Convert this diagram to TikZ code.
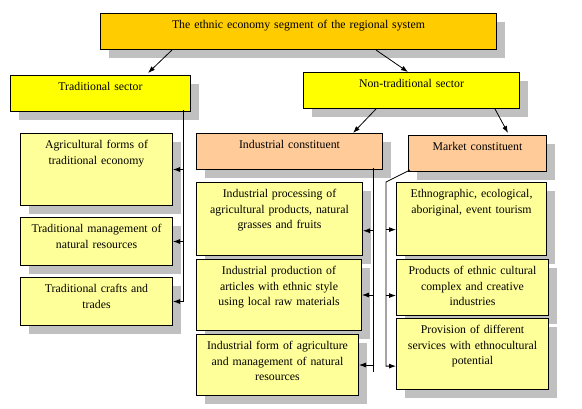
\documentclass[tikz,border=0pt]{standalone}
\usepackage{fontspec}
\setmainfont{Liberation Serif}
\usepackage{tikz}
\usetikzlibrary{arrows.meta, shadows}
\definecolor{gold}{HTML}{FFCC00}
\definecolor{sector}{HTML}{FFFF00}
\definecolor{peach}{HTML}{FFCC99}
\definecolor{pale}{HTML}{FFFF99}
\definecolor{shade}{HTML}{C0C0C0}
\tikzset{
  >={Latex[length=7pt,width=5pt]},
  box/.style={draw, line width=1pt, anchor=north west, align=center,
    inner xsep=2pt, inner ysep=4pt, text height=11pt, text depth=17pt,
    font=\fontsize{11.8}{15.5}\selectfont,
    general shadow={fill=shade, shadow xshift=8pt, shadow yshift=-8pt}},
  leaf/.style={box, fill=pale},
  link/.style={->, line width=0.8pt},
}

\begin{document}
\begin{tikzpicture}[x=1pt, y=-1pt]
  \useasboundingbox (0,0) rectangle (582,408);

  % boxes
  \node[box, fill=gold, text width=392pt] (seg) at (100,13) {The ethnic economy segment of the regional system};
  \node[box, fill=sector, text width=176pt] (trad) at (10,75) {Traditional sector};
  \node[box, fill=sector, text width=212pt] (nontrad) at (303,72) {Non-traditional sector};
  \node[box, fill=peach, text width=182pt] (ind) at (196,133) {Industrial constituent};
  \node[box, fill=peach, text width=134pt] (mkt) at (408,135) {Market constituent};

  \node[leaf, text width=148pt, text depth=53pt] (agr) at (20,133) {Agricultural forms of\\traditional economy};
  \node[leaf, text width=148pt, text depth=29pt] (mgmt) at (20,217) {Traditional management of\\natural resources};
  \node[leaf, text width=148pt, text depth=29pt] (crafts) at (20,277) {Traditional crafts and\\trades};

  \node[leaf, text width=162pt, text depth=54pt] (proc) at (196,182) {Industrial processing of\\agricultural products, natural\\grasses and fruits};
  \node[leaf, text width=161pt, text depth=52pt] (prod) at (196,259) {Industrial production of\\articles with ethnic style\\using local raw materials};
  \node[leaf, text width=158pt, text depth=42pt] (form) at (196,334) {Industrial form of agriculture\\and management of natural\\resources};

  \node[leaf, text width=146pt, text depth=54pt] (ethno) at (396,182) {Ethnographic, ecological,\\aboriginal, event tourism};
  \node[leaf, text width=148pt, text depth=37pt] (prods) at (396,259) {Products of ethnic cultural\\complex and creative\\industries};
  \node[leaf, text width=148pt, text depth=52pt] (prov) at (396,318) {Provision of different\\services with ethnocultural\\potential};

  % connectors
  \draw[link] ([xshift=72pt]seg.south west) -- ([xshift=138pt,yshift=2pt]trad.north west);
  \draw[link] ([xshift=276pt]seg.south west) -- ([xshift=105pt]nontrad.north west);
  \draw[link] ([xshift=73pt]nontrad.south west) -- ([xshift=157pt]ind.north west);
  \draw[link] ([xshift=192pt]nontrad.south west) -- ([xshift=100pt,yshift=2pt]mkt.north west);

  % traditional sector
  \coordinate (tbus) at ([xshift=173pt,yshift=2pt]trad.south west);
  \draw[link] (tbus) |- (crafts.east);
  \draw[link] (tbus |- agr.east) -- (agr.east);
  \draw[link] (tbus |- mgmt.east) -- (mgmt.east);

  % industrial constituent
  \coordinate (ibus) at ([xshift=177pt,yshift=2pt]ind.south west);
  \coordinate (iend) at (373,372);
  \draw[line width=0.8pt] (ibus) -- (iend);
  \draw[link] (ibus |- proc.-8) -- (proc.-8);
  \draw[link] (ibus |- prod.east) -- (prod.east);
  \draw[link] (ibus |- form.east) -- (form.east);

  % market constituent
  \coordinate (mbus) at (386,182);
  \draw[link] ([xshift=2pt,yshift=2pt]mkt.south west) -- (mbus) |- (prov.189);
  \draw[link] (mbus |- ethno.188) -- (ethno.188);
  \draw[link] (mbus |- prods.186) -- (prods.186);
\end{tikzpicture}
\end{document}
